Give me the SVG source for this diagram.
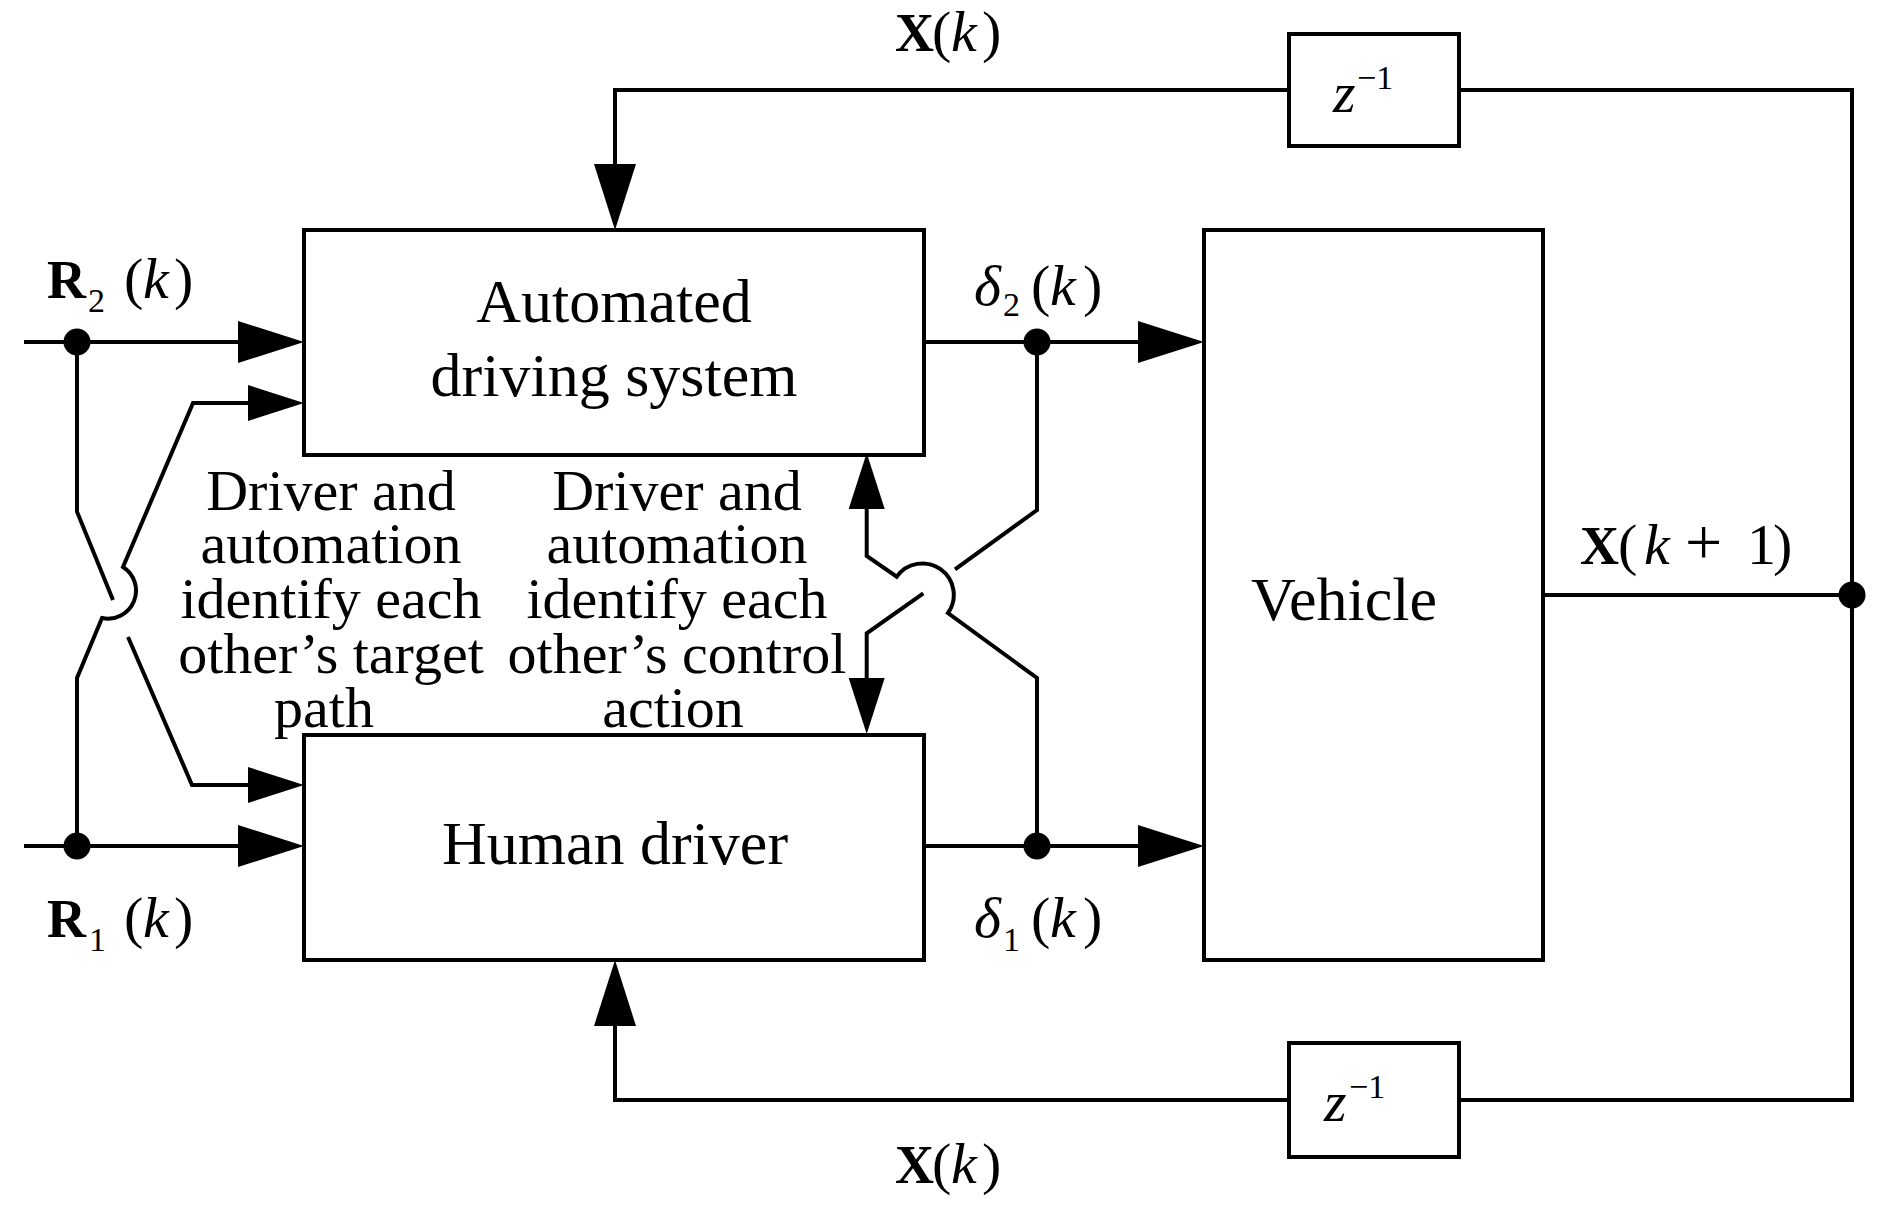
<svg xmlns="http://www.w3.org/2000/svg" width="1890" height="1206" viewBox="0 0 1890 1206">
<defs>
<style>
.box{fill:#fff;stroke:#000;stroke-width:4}
.ln{fill:none;stroke:#000;stroke-width:4;stroke-linejoin:miter}
.t{font-family:"Liberation Serif","Times New Roman",serif;fill:#000}
.lbl{font-size:62px;text-anchor:middle}
.note{font-size:58px;text-anchor:middle}
.m{font-size:58px}
.b{font-weight:bold}
.i{font-style:italic}
.sub{font-size:34px}
.dot{fill:#000}
</style>
<marker id="big" viewBox="0 0 66 42" refX="56" refY="21" markerWidth="66" markerHeight="42" markerUnits="userSpaceOnUse" orient="auto">
<path d="M0,0 L66,21 L0,42 Z" fill="#000"/>
</marker>
<marker id="small" viewBox="0 0 56 36" refX="46" refY="18" markerWidth="56" markerHeight="36" markerUnits="userSpaceOnUse" orient="auto">
<path d="M0,0 L56,18 L0,36 Z" fill="#000"/>
</marker>
</defs>
<rect width="1890" height="1206" fill="#fff"/>

<g id="connectors">
<path class="ln" d="M1289,90 H615 V220" marker-end="url(#big)"/>
<path class="ln" d="M1459,90 H1852 V1100 H1459"/>
<path class="ln" d="M1289,1100 H615 V970" marker-end="url(#big)"/>
<path class="ln" d="M1543,595 H1852"/>
<path class="ln" d="M24,342 H294" marker-end="url(#big)"/>
<path class="ln" d="M24,846 H294" marker-end="url(#big)"/>
<path class="ln" d="M924,342 H1194" marker-end="url(#big)"/>
<path class="ln" d="M924,846 H1194" marker-end="url(#big)"/>
<path class="ln" d="M77,342 V511.7 L113,600"/>
<path class="ln" d="M128,637 L192,785 H294" marker-end="url(#small)"/>
<path class="ln" d="M77,846 V678 L102,618 A28,28 0 0 0 123,567 L193,403 H294" marker-end="url(#small)"/>
<path class="ln" d="M1037,846 V678 L948,613 A31.4,31.4 0 0 0 896.7,576.7 L866.7,556 V463" marker-end="url(#small)"/>
<path class="ln" d="M1037,342 V510 L955,569.3"/>
<path class="ln" d="M923.3,593.3 L866.7,633.3 V724" marker-end="url(#small)"/>
<circle class="dot" cx="77" cy="342" r="13.5"/>
<circle class="dot" cx="77" cy="846" r="13.5"/>
<circle class="dot" cx="1037" cy="342" r="13.5"/>
<circle class="dot" cx="1037" cy="846" r="13.5"/>
<circle class="dot" cx="1852" cy="595" r="13.5"/>
</g>

<g id="ads">
<rect class="box" x="304" y="230" width="620" height="225"/>
<text class="t lbl" x="614" y="322">Automated</text>
<text class="t lbl" x="614" y="396">driving system</text>
</g>

<g id="human-driver">
<rect class="box" x="304" y="735" width="620" height="225"/>
<text class="t lbl" x="615" y="864">Human driver</text>
</g>

<g id="vehicle">
<rect class="box" x="1204" y="230" width="339" height="730"/>
<text class="t lbl" x="1344" y="620" font-size="63">Vehicle</text>
</g>

<g id="delay-top">
<rect class="box" x="1289" y="34" width="170" height="112"/>
<text class="t i m" x="1333" y="112">z</text>
<text class="t sub" x="1357" y="89">−1</text>
</g>

<g id="delay-bottom">
<rect class="box" x="1289" y="1043" width="170" height="114"/>
<text class="t i m" x="1324" y="1121">z</text>
<text class="t sub" x="1349" y="1098">−1</text>
</g>

<g id="note-target">
<text class="t note" x="331" y="510">Driver and</text>
<text class="t note" x="331" y="563">automation</text>
<text class="t note" x="331" y="618">identify each</text>
<text class="t note" x="331" y="673">other’s target</text>
<text class="t note" x="324" y="727">path</text>
</g>

<g id="note-control">
<text class="t note" x="677" y="510">Driver and</text>
<text class="t note" x="677" y="563">automation</text>
<text class="t note" x="677" y="618">identify each</text>
<text class="t note" x="677" y="673">other’s control</text>
<text class="t note" x="673" y="727">action</text>
</g>

<g id="labels">
<text class="t m" y="51"><tspan class="b" x="895" font-size="54">X</tspan><tspan x="932">(</tspan><tspan class="i" x="951">k</tspan><tspan x="982">)</tspan></text>
<text class="t m" y="1183"><tspan class="b" x="895" font-size="54">X</tspan><tspan x="932">(</tspan><tspan class="i" x="951">k</tspan><tspan x="982">)</tspan></text>
<text class="t m" y="564"><tspan class="b" x="1580" font-size="54">X</tspan><tspan x="1618">(</tspan><tspan class="i" x="1644">k</tspan><tspan x="1685" font-size="66">+</tspan><tspan x="1747">1</tspan><tspan x="1773">)</tspan></text>
<text class="t m" y="298"><tspan class="b" x="47" font-size="54">R</tspan><tspan x="124">(</tspan><tspan class="i" x="143">k</tspan><tspan x="174">)</tspan></text>
<text class="t sub" x="88" y="312">2</text>
<text class="t m" y="937"><tspan class="b" x="47" font-size="54">R</tspan><tspan x="124">(</tspan><tspan class="i" x="143">k</tspan><tspan x="174">)</tspan></text>
<text class="t sub" x="89" y="951">1</text>
<text class="t m" y="305"><tspan class="i" x="974">δ</tspan><tspan x="1031">(</tspan><tspan class="i" x="1050">k</tspan><tspan x="1083">)</tspan></text>
<text class="t sub" x="1003" y="316">2</text>
<text class="t m" y="937"><tspan class="i" x="974">δ</tspan><tspan x="1031">(</tspan><tspan class="i" x="1050">k</tspan><tspan x="1083">)</tspan></text>
<text class="t sub" x="1003" y="951">1</text>
</g>
</svg>
